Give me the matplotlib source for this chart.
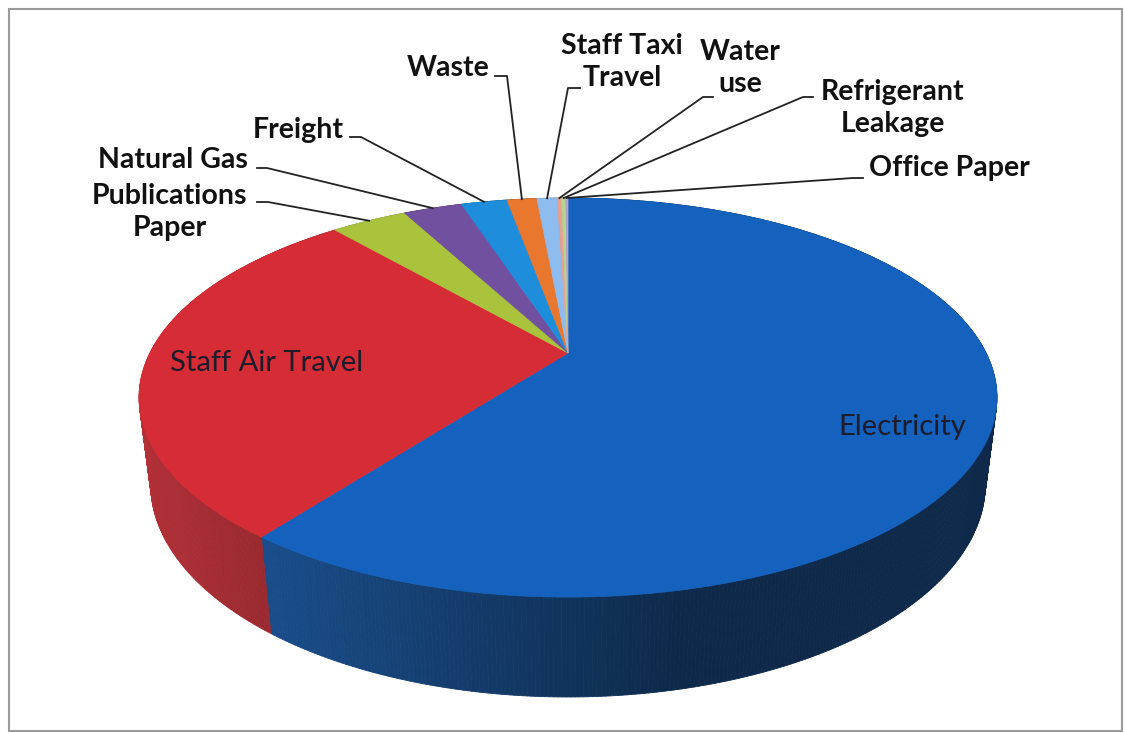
import numpy as np
import matplotlib.pyplot as plt
from matplotlib.collections import PolyCollection
from matplotlib.patches import Polygon, Rectangle
from matplotlib.colors import to_rgb

# slice data, clockwise from 12 o'clock (percent of total)
labels = ['Electricity', 'Staff Air Travel', 'Publications\nPaper', 'Natural Gas',
          'Freight', 'Waste', 'Staff Taxi\nTravel', 'Water\nuse',
          'Refrigerant\nLeakage', 'Office Paper']
values = [60.3, 28.4, 3.55, 2.75, 2.15, 1.4, 0.95, 0.2, 0.2, 0.1]
colors = ['#1462be', '#d62c36', '#a9c43c', '#7150a0', '#1e8ddc',
          '#e9772e', '#8ebcee', '#e8a090', '#b5d58e', '#b3a2d2']

# label placement (pixel coords) : text centre, leader start, stub end
label_pos = {
    'Publications\nPaper': ((170, 212), (257, 202), (268, 202)),
    'Natural Gas': ((173, 160), (257, 168), (267, 168)),
    'Freight': ((298, 130), (350, 137), (361, 137)),
    'Waste': ((448, 68), (495, 76), (507, 76)),
    'Staff Taxi\nTravel': ((622, 62), (580, 88), (568, 88)),
    'Water\nuse': ((740, 68), (713, 97), (703, 97)),
    'Refrigerant\nLeakage': ((893, 108), (813, 97), (803, 97)),
    'Office Paper': ((949, 168), (863, 178), (853, 178)),
}
inside_pos = {'Electricity': (902, 427), 'Staff Air Travel': (267, 363)}

# simple perspective camera for the 3d pie
ALPHA = np.arcsin(0.4535)
DIST = 3.992
FOC = 1669
DEPTH = 0.2326
CX, CY = 568, 353


def project(theta, z=0.0):
    x = np.sin(theta)
    y = np.cos(theta)
    c, s = np.cos(ALPHA), np.sin(ALPHA)
    d = DIST + y * c - z * s
    return CX + FOC * x / d, CY - FOC * (y * s + z * c) / d


plt.rcParams['font.family'] = ['Lato', 'DejaVu Sans']
fig = plt.figure(figsize=(11.25, 7.33), dpi=100)
ax = fig.add_axes([0, 0, 1, 1])
ax.set_xlim(0, 1125)
ax.set_ylim(733, 0)
ax.axis('off')

ax.add_patch(Rectangle((9, 9), 1113, 722, fill=False, ec='#9a9a9a', lw=1.5))

bounds = np.concatenate([[0], np.cumsum(values)]) / sum(values) * 2 * np.pi
light = np.array([-0.98, -0.2])

# side walls first, shaded by angle
quads, qcols = [], []
for i, col in enumerate(colors):
    n = max(3, int((bounds[i + 1] - bounds[i]) * 120))
    th = np.linspace(bounds[i], bounds[i + 1], n)
    tx, ty = project(th)
    bx, by = project(th, -DEPTH)
    for k in range(n - 1):
        quads.append([(tx[k], ty[k]), (tx[k + 1], ty[k + 1]),
                      (bx[k + 1], by[k + 1]), (bx[k], by[k])])
        tm = (th[k] + th[k + 1]) / 2
        inten = 0.42 + 0.48 * max(0, np.sin(tm) * light[0] + np.cos(tm) * light[1])
        rgb = np.array(to_rgb(col)) * inten
        grey = rgb.mean()
        qcols.append(tuple(np.clip(rgb * 0.85 + grey * 0.15, 0, 1)))
ax.add_collection(PolyCollection(quads, facecolors=qcols, edgecolors=qcols, lw=0.6, zorder=1))

# top faces
for i, col in enumerate(colors):
    n = max(3, int((bounds[i + 1] - bounds[i]) * 120))
    th = np.linspace(bounds[i], bounds[i + 1], n)
    tx, ty = project(th)
    pts = [(CX, CY)] + list(zip(tx, ty))
    ax.add_patch(Polygon(pts, closed=True, fc=col, ec=col, lw=0.5, zorder=2))

# outside labels with leader lines
for i, lab in enumerate(labels):
    if lab not in label_pos:
        continue
    (tx, ty), (ax0, ay0), (sx, sy) = label_pos[lab]
    mid = (bounds[i] + bounds[i + 1]) / 2
    rx, ry = project(mid)
    ax.plot([ax0, sx, rx], [ay0, sy, ry], color='#222222', lw=1.3, zorder=3)
    ax.text(tx, ty, lab, ha='center', va='center', fontsize=20.5, fontweight='bold',
            color='#111111', linespacing=1.3, zorder=4)

for lab, (tx, ty) in inside_pos.items():
    ax.text(tx, ty, lab, ha='center', va='center', fontsize=21,
            color='#1c1c2a', zorder=4)

fig.savefig('out.png', dpi=100)
